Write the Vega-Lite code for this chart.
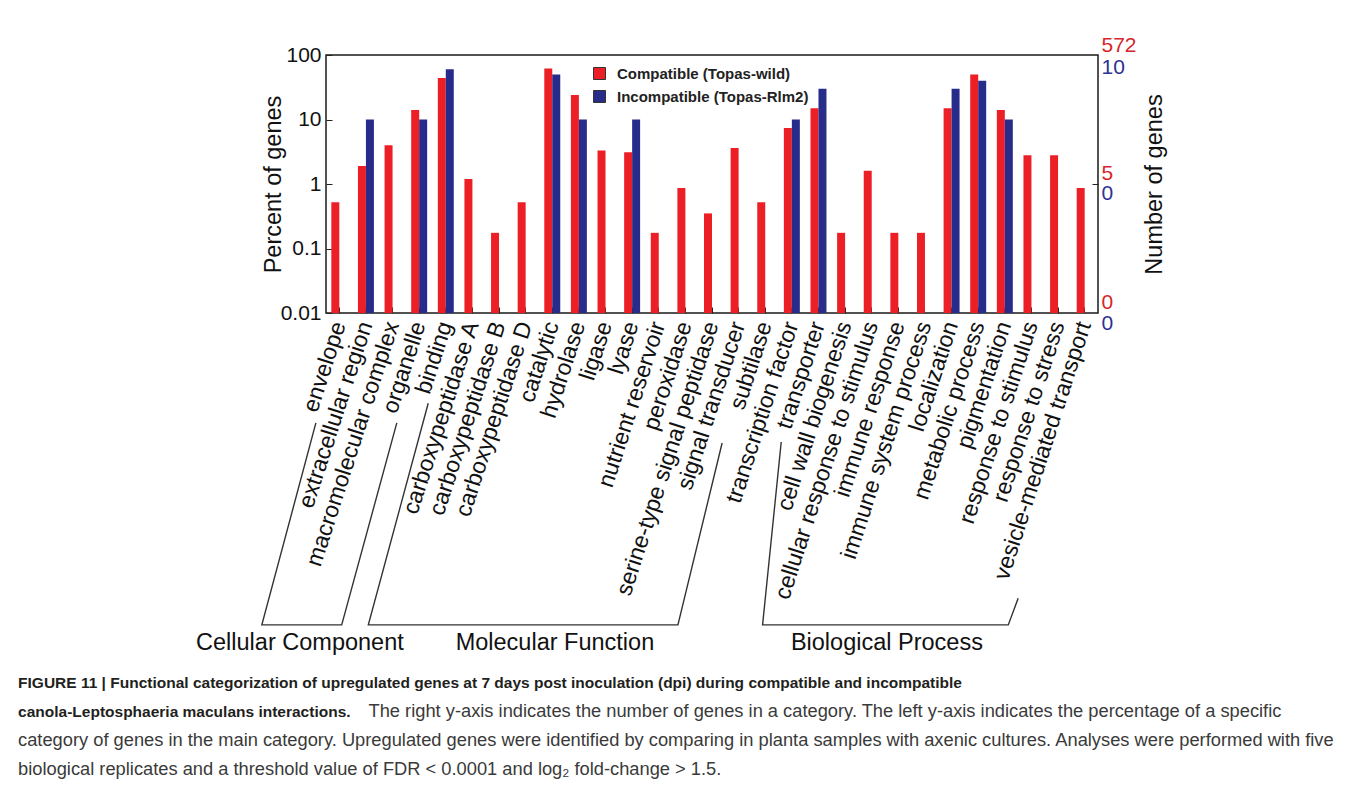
{
  "$schema": "https://vega.github.io/schema/vega-lite/v6.json",
  "width": 772,
  "height": 258,
  "padding": {"left": 18, "top": 34, "right": 5, "bottom": 5},
  "background": "white",
  "config": {
    "font": "Liberation Sans",
    "view": {"stroke": "#1a1a1a", "strokeWidth": 1.5},
    "axis": {"grid": false, "domain": false, "labelFont": "Liberation Sans", "titleFont": "Liberation Sans", "labelColor": "#111111", "titleColor": "#111111", "tickColor": "#222222", "titleFontWeight": "normal"}
  },
  "title": {
    "text": ["FIGURE 11 | Functional categorization of upregulated genes at 7 days post inoculation (dpi) during compatible and incompatible", "canola-Leptosphaeria maculans interactions."],
    "subtitle": ["\u200b\u00a0\u00a0\u00a0\u00a0\u00a0\u00a0\u00a0\u00a0\u00a0\u00a0\u00a0\u00a0\u00a0\u00a0\u00a0\u00a0\u00a0\u00a0\u00a0\u00a0\u00a0\u00a0\u00a0\u00a0\u00a0\u00a0\u00a0\u00a0\u00a0\u00a0\u00a0\u00a0\u00a0\u00a0\u00a0\u00a0\u00a0\u00a0\u00a0\u00a0\u00a0\u00a0\u00a0\u00a0\u00a0\u00a0\u00a0\u00a0\u00a0\u00a0\u00a0\u00a0\u00a0\u00a0\u00a0\u00a0\u00a0\u00a0\u00a0\u00a0\u00a0\u00a0\u00a0\u00a0\u00a0\u00a0\u00a0\u00a0\u00a0The right y-axis indicates the number of genes in a category. The left y-axis indicates the percentage of a specific", "category of genes in the main category. Upregulated genes were identified by comparing in planta samples with axenic cultures. Analyses were performed with five", "biological replicates and a threshold value of FDR < 0.0001 and log\u2082 fold-change > 1.5."],
    "orient": "bottom",
    "anchor": "start",
    "frame": "bounds",
    "dx": -178,
    "offset": 22,
    "font": "Liberation Sans",
    "fontSize": 15.5,
    "fontWeight": "bold",
    "color": "#231f20",
    "lineHeight": 29,
    "subtitleFont": "Liberation Sans",
    "subtitleFontSize": 18.3,
    "subtitleFontWeight": "normal",
    "subtitleColor": "#3a3a3a",
    "subtitleLineHeight": 29,
    "subtitlePadding": -17.7
  },
  "datasets": {
    "genes": [
      {"category": "envelope", "series": "Compatible (Topas-wild)", "percent": 0.52},
      {"category": "extracellular region", "series": "Compatible (Topas-wild)", "percent": 1.9},
      {"category": "extracellular region", "series": "Incompatible (Topas-Rlm2)", "percent": 10},
      {"category": "macromolecular complex", "series": "Compatible (Topas-wild)", "percent": 4.0},
      {"category": "organelle", "series": "Compatible (Topas-wild)", "percent": 14},
      {"category": "organelle", "series": "Incompatible (Topas-Rlm2)", "percent": 10},
      {"category": "binding", "series": "Compatible (Topas-wild)", "percent": 44},
      {"category": "binding", "series": "Incompatible (Topas-Rlm2)", "percent": 60},
      {"category": "carboxypeptidase A", "series": "Compatible (Topas-wild)", "percent": 1.2},
      {"category": "carboxypeptidase B", "series": "Compatible (Topas-wild)", "percent": 0.175},
      {"category": "carboxypeptidase D", "series": "Compatible (Topas-wild)", "percent": 0.52},
      {"category": "catalytic", "series": "Compatible (Topas-wild)", "percent": 62},
      {"category": "catalytic", "series": "Incompatible (Topas-Rlm2)", "percent": 50},
      {"category": "hydrolase", "series": "Compatible (Topas-wild)", "percent": 24},
      {"category": "hydrolase", "series": "Incompatible (Topas-Rlm2)", "percent": 10},
      {"category": "ligase", "series": "Compatible (Topas-wild)", "percent": 3.3},
      {"category": "lyase", "series": "Compatible (Topas-wild)", "percent": 3.1},
      {"category": "lyase", "series": "Incompatible (Topas-Rlm2)", "percent": 10},
      {"category": "nutrient reservoir", "series": "Compatible (Topas-wild)", "percent": 0.175},
      {"category": "peroxidase", "series": "Compatible (Topas-wild)", "percent": 0.87},
      {"category": "serine-type signal peptidase", "series": "Compatible (Topas-wild)", "percent": 0.35},
      {"category": "signal transducer", "series": "Compatible (Topas-wild)", "percent": 3.6},
      {"category": "subtilase", "series": "Compatible (Topas-wild)", "percent": 0.52},
      {"category": "transcription factor", "series": "Compatible (Topas-wild)", "percent": 7.4},
      {"category": "transcription factor", "series": "Incompatible (Topas-Rlm2)", "percent": 10},
      {"category": "transporter", "series": "Compatible (Topas-wild)", "percent": 15},
      {"category": "transporter", "series": "Incompatible (Topas-Rlm2)", "percent": 30},
      {"category": "cell wall biogenesis", "series": "Compatible (Topas-wild)", "percent": 0.175},
      {"category": "cellular response to stimulus", "series": "Compatible (Topas-wild)", "percent": 1.6},
      {"category": "immune response", "series": "Compatible (Topas-wild)", "percent": 0.175},
      {"category": "immune system process", "series": "Compatible (Topas-wild)", "percent": 0.175},
      {"category": "localization", "series": "Compatible (Topas-wild)", "percent": 15},
      {"category": "localization", "series": "Incompatible (Topas-Rlm2)", "percent": 30},
      {"category": "metabolic process", "series": "Compatible (Topas-wild)", "percent": 50},
      {"category": "metabolic process", "series": "Incompatible (Topas-Rlm2)", "percent": 40},
      {"category": "pigmentation", "series": "Compatible (Topas-wild)", "percent": 14},
      {"category": "pigmentation", "series": "Incompatible (Topas-Rlm2)", "percent": 10},
      {"category": "response to stimulus", "series": "Compatible (Topas-wild)", "percent": 2.8},
      {"category": "response to stress", "series": "Compatible (Topas-wild)", "percent": 2.8},
      {"category": "vesicle-mediated transport", "series": "Compatible (Topas-wild)", "percent": 0.87}
    ],
    "brackets": [
      {"grp": "Cellular Component", "ord": 1, "u": -0.38, "v": -0.426},
      {"grp": "Cellular Component", "ord": 2, "u": -2.41, "v": -1.209},
      {"grp": "Cellular Component", "ord": 3, "u": 0.59, "v": -1.209},
      {"grp": "Cellular Component", "ord": 4, "u": 2.66, "v": -0.426},
      {"grp": "Molecular Function", "ord": 1, "u": 3.84, "v": -0.35},
      {"grp": "Molecular Function", "ord": 2, "u": 1.59, "v": -1.209},
      {"grp": "Molecular Function", "ord": 3, "u": 13.22, "v": -1.209},
      {"grp": "Molecular Function", "ord": 4, "u": 14.88, "v": -0.504},
      {"grp": "Biological Process", "ord": 1, "u": 17.1, "v": -0.5},
      {"grp": "Biological Process", "ord": 2, "u": 16.4, "v": -1.209},
      {"grp": "Biological Process", "ord": 3, "u": 25.63, "v": -1.209},
      {"grp": "Biological Process", "ord": 4, "u": 26.0, "v": -1.106}
    ],
    "groups": [
      {"grp": "Cellular Component", "u": -0.98, "v": -1.279},
      {"grp": "Molecular Function", "u": 8.6, "v": -1.279},
      {"grp": "Biological Process", "u": 21.07, "v": -1.279}
    ]
  },
  "layer": [
    {
      "data": {"name": "genes"},
      "encoding": {
        "x": {
          "field": "category", "type": "nominal",
          "scale": {"domain": ["envelope","extracellular region","macromolecular complex","organelle","binding","carboxypeptidase A","carboxypeptidase B","carboxypeptidase D","catalytic","hydrolase","ligase","lyase","nutrient reservoir","peroxidase","serine-type signal peptidase","signal transducer","subtilase","transcription factor","transporter","cell wall biogenesis","cellular response to stimulus","immune response","immune system process","localization","metabolic process","pigmentation","response to stimulus","response to stress","vesicle-mediated transport"], "paddingInner": 0.4, "paddingOuter": 0.2},
          "axis": {"title": null, "labelAngle": -72, "labelAlign": "right", "labelBaseline": "middle", "labelFontSize": 23, "labelLimit": 600, "labelOverlap": false, "tickSize": -6, "tickWidth": 1, "labelPadding": 15, "labelColor": "#111111"}
        },
        "xOffset": {"field": "series", "type": "nominal", "scale": {"domain": ["Compatible (Topas-wild)", "Incompatible (Topas-Rlm2)"], "range": [0, 15.97], "paddingInner": 0, "paddingOuter": 0}},
        "color": {
          "field": "series", "type": "nominal",
          "scale": {"domain": ["Compatible (Topas-wild)", "Incompatible (Topas-Rlm2)"], "range": ["#ec1f26", "#272b8a"]},
          "legend": {"orient": "none", "legendX": 266, "legendY": 11, "title": null, "symbolType": "square", "symbolSize": 144, "symbolStrokeColor": "#333333", "symbolStrokeWidth": 1, "labelFontSize": 15, "labelFontWeight": "bold", "labelFont": "Liberation Sans", "labelColor": "#222222", "labelLimit": 400, "rowPadding": 6, "labelOffset": 10, "padding": 0}
        }
      },
      "layer": [
        {
          "transform": [{"filter": "datum.series === 'Compatible (Topas-wild)'"}],
          "mark": {"type": "bar"},
          "encoding": {
            "y": {
              "field": "percent", "type": "quantitative", "stack": null,
              "scale": {"type": "log", "domain": [0.01, 100], "nice": false},
              "axis": {"orient": "left", "title": "Percent of genes", "titleFontSize": 23.5, "titlePadding": -5, "values": [0.01, 0.1, 1, 10, 100], "format": "~g", "labelFontSize": 21, "tickSize": -6, "labelPadding": 11, "labelOverlap": false}
            }
          }
        },
        {
          "transform": [{"filter": "datum.series === 'Incompatible (Topas-Rlm2)'"}],
          "mark": {"type": "bar"},
          "encoding": {
            "y": {
              "field": "percent", "type": "quantitative", "stack": null,
              "scale": {"type": "log", "domain": [0.01, 100], "nice": false},
              "axis": {
                "orient": "right", "title": "Number of genes", "titleFontSize": 23.5, "titleAngle": 270, "titlePadding": 30,
                "values": [100, 62.9, 1.48, 1, 0.725, 0.0148, 0.01],
                "labelExpr": "datum.value == 100 ? '572' : datum.value == 62.9 ? '10' : datum.value == 1.48 ? '5' : datum.value == 1 ? '' : '0'",
                "labelColor": {"condition": {"test": "datum.value == 100 || datum.value == 1.48 || datum.value == 0.0148", "value": "#d7262b"}, "value": "#2e3192"},
                "labelOffset": {"condition": [{"test": "datum.value == 100", "value": -10}, {"test": "datum.value == 0.01", "value": 10}], "value": 0},
                "tickOpacity": {"condition": {"test": "datum.value == 1", "value": 1}, "value": 0},
                "labelFontSize": 21, "tickSize": -6, "labelPadding": 9, "labelOverlap": false
              }
            }
          }
        }
      ],
      "resolve": {"scale": {"y": "independent"}}
    },
    {
      "layer": [
        {
          "data": {"name": "brackets"},
          "mark": {"type": "line", "color": "#333333", "strokeWidth": 1.4},
          "encoding": {
            "x": {"field": "u", "type": "quantitative", "scale": {"domain": [0, 29], "nice": false, "zero": false},
                  "axis": {"orient": "top", "title": null, "labels": false, "values": [0.5,1.5,2.5,3.5,4.5,5.5,6.5,7.5,8.5,9.5,10.5,11.5,12.5,13.5,14.5,15.5,16.5,17.5,18.5,19.5,20.5,21.5,22.5,23.5,24.5,25.5,26.5,27.5,28.5], "tickSize": -6, "tickWidth": 1}},
            "y": {"field": "v", "type": "quantitative", "scale": {"domain": [0, 1], "nice": false, "zero": false}, "axis": null},
            "detail": {"field": "grp"},
            "order": {"field": "ord"}
          }
        },
        {
          "data": {"name": "groups"},
          "mark": {"type": "text", "fontSize": 23.5, "font": "Liberation Sans", "color": "#111111", "align": "center", "baseline": "middle"},
          "encoding": {
            "x": {"field": "u", "type": "quantitative", "scale": {"domain": [0, 29], "nice": false, "zero": false}, "axis": null},
            "y": {"field": "v", "type": "quantitative", "scale": {"domain": [0, 1], "nice": false, "zero": false}, "axis": null},
            "text": {"field": "grp"}
          }
        }
      ]
    }
  ],
  "resolve": {"scale": {"x": "independent", "y": "independent", "xOffset": "independent"}}
}
